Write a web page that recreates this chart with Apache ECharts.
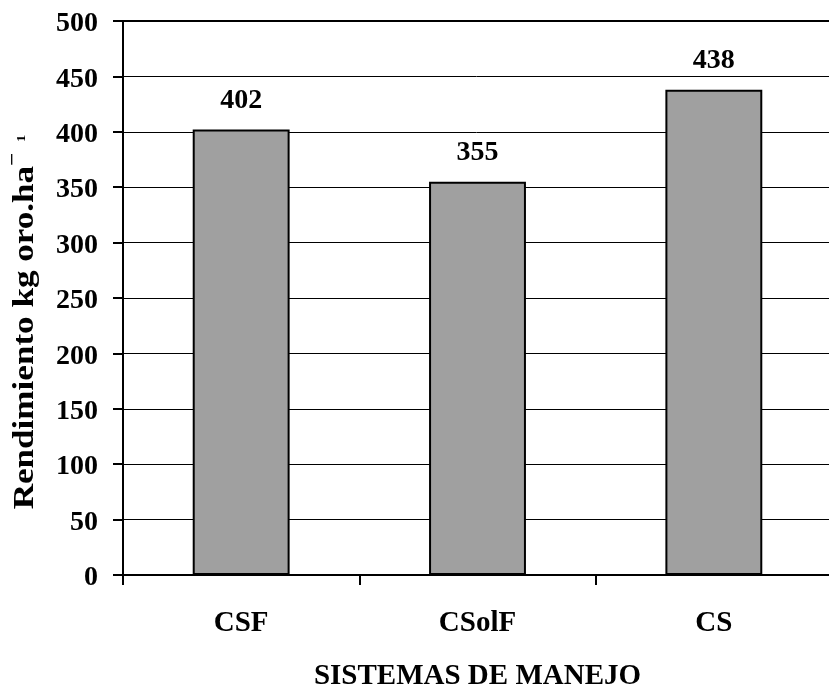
<!DOCTYPE html>
<html>
<head>
<meta charset="utf-8">
<script src="https://cdn.jsdelivr.net/npm/echarts@6/dist/echarts.min.js"></script>
<style>
html,body{margin:0;padding:0;background:#fff;}
#chart{width:829px;height:690px;}
</style>
</head>
<body>
<div id="chart"></div>
<script>
const categories = ['CSF', 'CSolF', 'CS'];
const values = [402, 355, 438];
const yTicks = [0, 50, 100, 150, 200, 250, 300, 350, 400, 450, 500];
const xTitle = 'SISTEMAS DE MANEJO';
const yTitle = 'Rendimiento kg oro.ha';

const FONT = '"Liberation Serif", "Times New Roman", serif';
const chart = echarts.init(document.getElementById('chart'), null, {renderer: 'canvas'});
chart.setOption({
  animation: false,
  backgroundColor: '#fff',
  grid: {left: 123, right: -3, top: 21, bottom: 115, outerBoundsMode: 'none', containLabel: false,
         show: true, borderColor: '#000', borderWidth: 2, backgroundColor: 'transparent'},
  xAxis: {
    type: 'category',
    data: categories,
    axisLine: {lineStyle: {color: '#000', width: 2}},
    axisTick: {show: true, length: 10, lineStyle: {color: '#000', width: 2}},
    axisLabel: {color: '#000', fontFamily: FONT, fontWeight: 'bold', fontSize: 29, margin: 34},
    name: xTitle,
    nameLocation: 'middle',
    nameGap: 87,
    nameTextStyle: {color: '#000', fontFamily: FONT, fontWeight: 'bold', fontSize: 29}
  },
  yAxis: {
    type: 'value',
    min: yTicks[0],
    max: yTicks[yTicks.length - 1],
    interval: yTicks[1] - yTicks[0],
    axisLine: {show: true, lineStyle: {color: '#000', width: 2}},
    axisTick: {show: true, length: 10, lineStyle: {color: '#000', width: 2}},
    axisLabel: {color: '#000', fontFamily: FONT, fontWeight: 'bold', fontSize: 28, margin: 25,
                verticalAlign: 'top', lineHeight: 6},
    splitLine: {show: true, lineStyle: {color: '#000', width: 1}}
  },
  graphic: [{
    type: 'text',
    x: 20,
    y: 322,
    rotation: Math.PI / 2,
    scaleX: 1.21,
    style: {
      text: '{a|' + yTitle + '}{d|−}{s|1}',
      align: 'center',
      verticalAlign: 'middle',
      rich: {
        a: {fontFamily: FONT, fontWeight: 'bold', fontSize: 29, fill: '#000', verticalAlign: 'bottom', lineHeight: 40},
        d: {fontFamily: FONT, fontWeight: 'bold', fontSize: 19, fill: '#000', verticalAlign: 'bottom', lineHeight: 40, padding: [0, 9, 17, 0]},
        s: {fontFamily: FONT, fontWeight: 'bold', fontSize: 12, fill: '#000', verticalAlign: 'bottom', lineHeight: 40, padding: [0, 0, 12, 0]}
      }
    }
  }],
  series: [{
    type: 'bar',
    data: values,
    barWidth: '41%',
    itemStyle: {color: '#a0a0a0', borderColor: '#000', borderWidth: 2},
    label: {show: true, position: 'top', distance: 15, color: '#000', fontFamily: FONT, fontWeight: 'bold', fontSize: 28}
  }]
});
</script>
</body>
</html>
